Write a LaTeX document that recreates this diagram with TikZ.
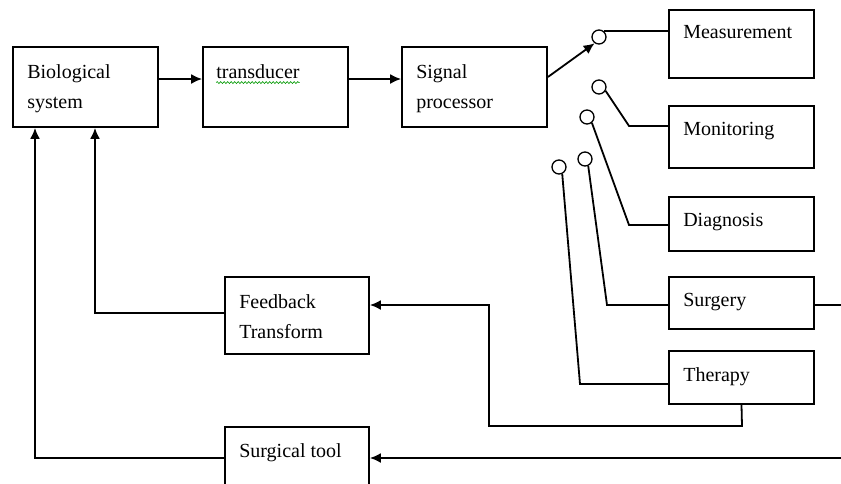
\documentclass[tikz,border=0pt]{standalone}
\usepackage{fontspec}
\setmainfont{Liberation Serif}
\usetikzlibrary{arrows.meta,decorations.pathmorphing}

\begin{document}
\begin{tikzpicture}[x=1pt,y=-1pt,
  box/.style={draw, line width=1.8pt, minimum width=145pt, inner sep=0pt},
  lbl/.style={anchor=north west, inner sep=0pt, align=left, font=\fontsize{20}{30}\selectfont},
  pin/.style={draw, circle, line width=1.3pt, minimum size=14pt, inner sep=0pt},
  wire/.style={line width=1.8pt},
  arr/.style={wire, -{Latex[length=11pt,width=10pt]}}]
  \useasboundingbox (0,0) rectangle (841,483);
  \clip (0,0) rectangle (841,483);
  \fill[white] (0,0) rectangle (841,483);

  % top row
  \node[box, minimum height=80pt] (bio) at (85.5,87) {};
  \node[box, minimum height=80pt] (trans) at (275.5,87) {};
  \node[box, minimum height=80pt] (sig) at (474.5,87) {};
  \node[lbl] (bio-t) at ([shift={(15pt,-18pt)}]bio.north west) {Biological\\system};
  \node[lbl] (trans-t) at ([shift={(14pt,-18pt)}]trans.north west) {transducer};
  \node[lbl] (sig-t) at ([shift={(15pt,-18pt)}]sig.north west) {Signal\\processor};
  \draw[green!60!black, line width=0.6pt, decorate, decoration={snake, segment length=3.5pt, amplitude=1pt}]
    ([yshift=-4pt]trans-t.south west) -- ([yshift=-4pt]trans-t.south east);

  % output boxes
  \node[box, minimum height=68pt] (meas) at (741.5,44) {};
  \node[box, minimum height=62pt] (mon) at (741.5,137) {};
  \node[box, minimum height=54pt] (diag) at (741.5,224) {};
  \node[box, minimum height=52pt] (surg) at (741.5,303) {};
  \node[box, minimum height=53pt] (ther) at (741.5,377.5) {};
  \node[lbl] (meas-t) at ([shift={(15pt,-16pt)}]meas.north west) {Measurement};
  \node[lbl] (mon-t) at ([shift={(15pt,-17pt)}]mon.north west) {Monitoring};
  \node[lbl] (diag-t) at ([shift={(15pt,-17pt)}]diag.north west) {Diagnosis};
  \node[lbl] (surg-t) at ([shift={(15pt,-17pt)}]surg.north west) {Surgery};
  \node[lbl] (ther-t) at ([shift={(15pt,-17pt)}]ther.north west) {Therapy};

  % feedback boxes
  \node[box, minimum width=144pt, minimum height=77pt] (fb) at (297,315.5) {};
  \node[box, minimum width=144pt, minimum height=77pt] (tool) at (297,465.5) {};
  \node[lbl] (fb-t) at ([shift={(15pt,-18pt)}]fb.north west) {Feedback\\Transform};
  \node[lbl] (tool-t) at ([shift={(15pt,-17pt)}]tool.north west) {Surgical tool};

  % switch contacts
  \node[pin] (c1) at (599,37) {};
  \node[pin] (c2) at (599,87) {};
  \node[pin] (c3) at (587,117) {};
  \node[pin] (c4) at (585,159) {};
  \node[pin] (c5) at (559,167) {};

  % bends
  \coordinate (k2) at (629,126);
  \coordinate (k3) at (629,225);
  \coordinate (k4) at (607,305);
  \coordinate (k5) at (580,384);
  \coordinate (f1) at (742,426);
  \coordinate (f2) at (489,426);
  \coordinate (f3) at (489,305);
  \coordinate (f4) at (95,313);
  \coordinate (t1) at (35,458);
  \coordinate (e1) at (841,305);
  \coordinate (e2) at (841,458);

  \draw[arr] (bio.east |- 0,79) -- (trans.west |- 0,79);
  \draw[arr] (trans.east |- 0,79) -- (sig.west |- 0,79);
  \draw[arr] ([yshift=10pt]sig.east) -- (c1.235);

  \draw[wire] (c1.50) -- (c1.50 -| meas.west);
  \draw[wire] (c2.-30) -- (k2) -- (k2 -| mon.west);
  \draw[wire] (c3.-50) -- (k3) -- (k3 -| diag.west);
  \draw[wire] (c4.-65) -- (k4) -- (k4 -| surg.west);
  \draw[wire] (c5.-65) -- (k5) -- (k5 -| ther.west);

  \draw[wire] (surg.east |- e1) -- (e1);
  \draw[arr] (ther.south) -- (f1) -- (f2) -- (f3) -- (f3 -| fb.east);
  \draw[arr] (fb.west |- f4) -- (f4) -- (f4 |- bio.south);
  \draw[arr] (e2) -- (e2 -| tool.east);
  \draw[arr] (tool.west |- t1) -- (t1) -- (t1 |- bio.south);
\end{tikzpicture}
\end{document}
